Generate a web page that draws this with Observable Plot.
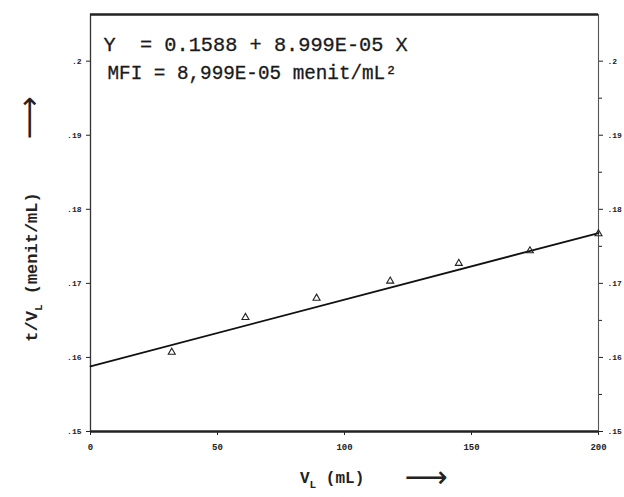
<!DOCTYPE html>
<html><head><meta charset="utf-8">
<script src="https://cdn.jsdelivr.net/npm/d3@7"></script>
<script src="https://cdn.jsdelivr.net/npm/@observablehq/plot@0.6"></script>
<style>body{margin:0;background:#fff}#c{width:624px;height:497px}</style>
</head><body><div id="c"></div>
<script>
const volumes = [32, 61, 89, 118, 145, 173, 200];
const ratios = [0.1607, 0.1654, 0.1680, 0.1703, 0.1727, 0.1744, 0.1767];
const fitIntercept = 0.1588;
const fitSlope = 8.999e-5;
const fitX = [0, 200];
const xTickValues = [0, 50, 100, 150, 200];
const xTickLabels = ["0", "50", "100", "150", "200"];
const yTickValues = [0.15, 0.16, 0.17, 0.18, 0.19, 0.2];
const yTickLabels = [".15", ".16", ".17", ".18", ".19", ".2"];
const yMinorTicks = [0.155, 0.165, 0.175, 0.185, 0.195];
const yDomain = [0.15, 0.2063];
const equationLines = ["Y  = 0.1588 + 8.999E-05 X", "MFI = 8,999E-05 menit/mL²"];

const points = volumes.map((v, i) => ({x: v, y: ratios[i]}));
const fit = fitX.map(x => ({x, y: fitIntercept + fitSlope * x}));
const yLab = d => yTickLabels[yTickValues.indexOf(d)];
const xLab = d => xTickLabels[xTickValues.indexOf(d)];
const mono = "'Liberation Mono', 'DejaVu Sans Mono', monospace";

const chart = Plot.plot({
  width: 624, height: 497,
  marginLeft: 90, marginRight: 26, marginTop: 14, marginBottom: 66,
  style: {background: "#fff", color: "#222", fontFamily: mono},
  x: {domain: [0, 200]},
  y: {domain: yDomain},
  marks: [
    Plot.ruleX([0], {stroke: "#333", strokeWidth: 1.3}),
    Plot.ruleX([200], {stroke: "#555", strokeWidth: 1.1}),
    Plot.ruleY([yDomain[1]], {stroke: "#222", strokeWidth: 2.4}),
    Plot.ruleY([yDomain[0]], {stroke: "#222", strokeWidth: 2.4}),
    Plot.axisX({ticks: xTickValues, tickFormat: xLab, tickSize: 4, fontSize: 9, label: null, tickPadding: 8, fontWeight: "bold"}),
    Plot.axisY({ticks: yTickValues, tickFormat: yLab, tickSize: 4, fontSize: 8, label: null, anchor: "left", fontWeight: "bold"}),
    Plot.axisY({ticks: yTickValues, tickFormat: yLab, tickSize: 4, fontSize: 8, label: null, anchor: "right", fontWeight: "bold"}),
    Plot.axisY({ticks: yMinorTicks, tickFormat: () => "", tickSize: 3, label: null, anchor: "right"}),
    Plot.line(fit, {x: "x", y: "y", stroke: "#111", strokeWidth: 1.8}),
    Plot.dot(points, {x: "x", y: "y", symbol: "triangle", r: 2.6, stroke: "#222", strokeWidth: 1.1, fill: "none"}),
    Plot.text([equationLines[0]], {frameAnchor: "top-left", dx: 13, dy: 22, text: d => d, textAnchor: "start", fontSize: 20.3, fontFamily: mono, fill: "#1a1a1a", stroke: "#1a1a1a", strokeWidth: 0.3}),
    Plot.text([equationLines[1]], {frameAnchor: "top-left", dx: 17, dy: 51, text: d => d, textAnchor: "start", fontSize: 19.3, fontFamily: mono, fill: "#1a1a1a", stroke: "#1a1a1a", strokeWidth: 0.3})
  ]
});
document.getElementById("c").appendChild(chart);

const svg = d3.select(chart);
// Y axis label with subscript
const yl = svg.append("text")
  .attr("transform", "translate(37,267) rotate(-90)")
  .attr("text-anchor", "middle")
  .attr("font-family", mono).attr("font-size", 17).attr("font-weight", "bold").attr("fill", "#222");
yl.append("tspan").text("t/V");
yl.append("tspan").attr("font-size", 11).attr("dy", 5).text("L");
yl.append("tspan").attr("dy", -5).text(" (menit/mL)");
svg.append("text")
  .attr("transform", "translate(39,118) rotate(-90)")
  .attr("text-anchor", "middle")
  .attr("font-family", "'DejaVu Sans', sans-serif").attr("font-size", 30).attr("fill", "#222")
  .text("⟶");
// X axis label with subscript
const xl = svg.append("text")
  .attr("x", 300).attr("y", 483)
  .attr("text-anchor", "start")
  .attr("font-family", mono).attr("font-size", 16).attr("font-weight", "bold").attr("fill", "#222");
xl.append("tspan").text("V");
xl.append("tspan").attr("font-size", 11).attr("dy", 5).text("L");
xl.append("tspan").attr("dy", -5).text(" (mL)");
svg.append("text")
  .attr("x", 426).attr("y", 487)
  .attr("text-anchor", "middle")
  .attr("font-family", "'DejaVu Sans', sans-serif").attr("font-size", 30).attr("fill", "#222")
  .text("⟶");
</script>
</body></html>
